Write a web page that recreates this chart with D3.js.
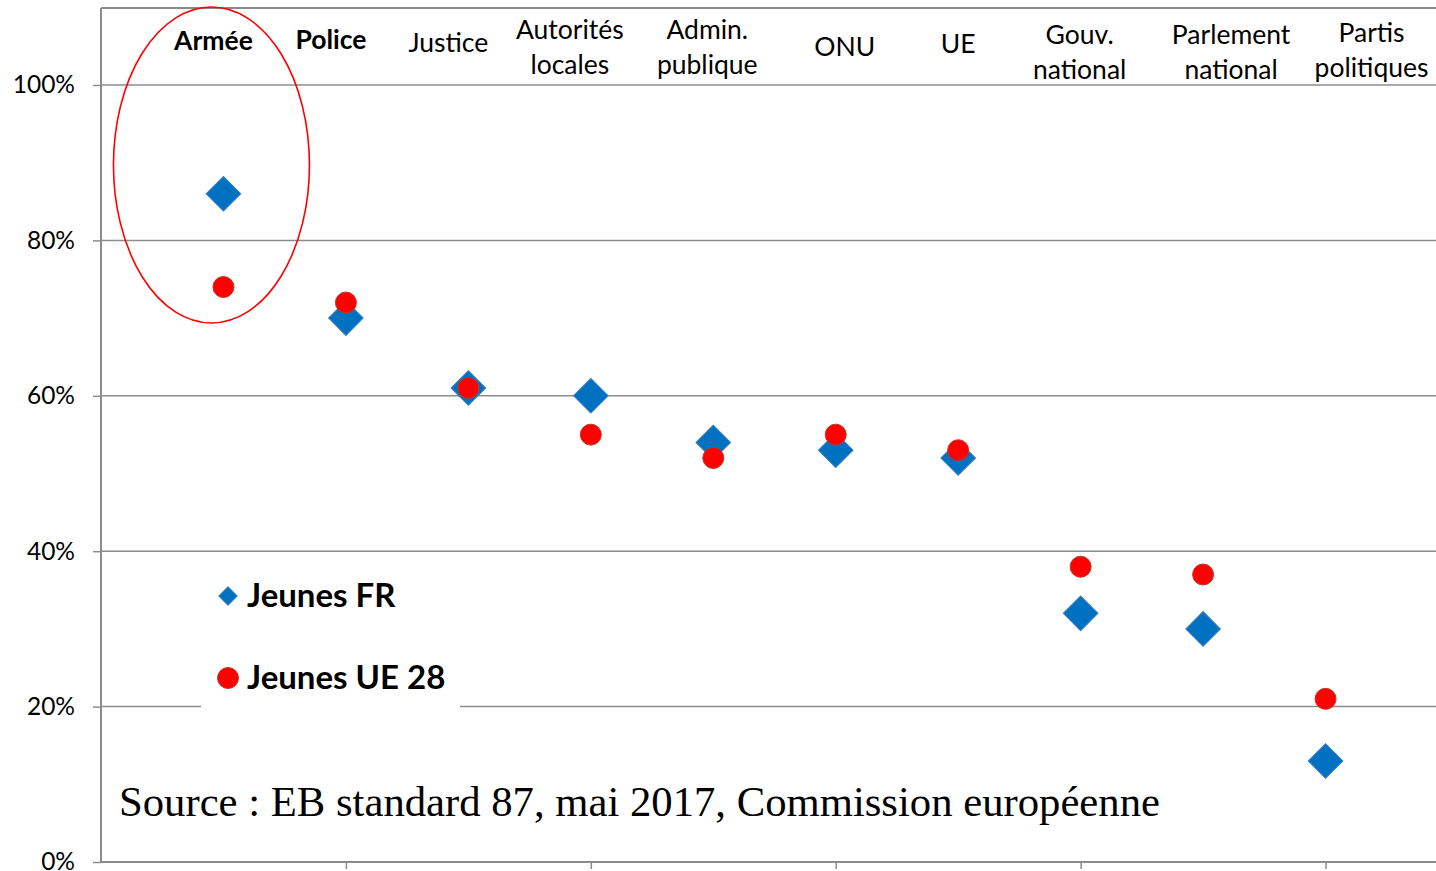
<!DOCTYPE html>
<html>
<head>
<meta charset="utf-8">
<script src="https://cdn.jsdelivr.net/npm/d3@7"></script>
<style>
  body { margin: 0; background: #fff; }
  svg { display: block; }
</style>
</head>
<body>
<div id="chart"></div>
<script>
// institutions, in plot order (x = 1..10)
const categories = ["Armée", "Police", "Justice", "Autorités\nlocales", "Admin.\npublique",
    "ONU", "UE", "Gouv.\nnational", "Parlement\nnational", "Partis\npolitiques"];
const boldCategories = ["Armée", "Police"];

// % de confiance
const jeunesFR = [86, 70, 61, 60, 54, 53, 52, 32, 30, 13];
const jeunesUE28 = [74, 72, 61, 55, 52, 55, 53, 38, 37, 21];

const yTicks = [0, 20, 40, 60, 80, 100];
const xTicks = [2, 4, 6, 8, 10];
const sourceText = "Source : EB standard 87, mai 2017, Commission européenne";

const W = 1436, H = 871;
const plotLeft = 101, plotRight = 1448, plotTop = 8, plotBottom = 862;

const svg = d3.select("#chart").append("svg")
    .attr("width", W)
    .attr("height", H);

const x = d3.scaleLinear().domain([0, 11]).range([plotLeft, plotRight]);
const y = d3.scaleLinear().domain([0, 100]).range([plotBottom, 85]);

// gridlines
svg.append("g")
    .selectAll("line")
    .data(yTicks.filter(d => d > 0))
    .enter()
    .append("line")
    .attr("x1", plotLeft)
    .attr("x2", W)
    .attr("y1", d => y(d))
    .attr("y2", d => y(d))
    .attr("stroke", "#8c8c8c")
    .attr("stroke-width", 1.5);

// top border of the plot area
svg.append("line")
    .attr("x1", plotLeft).attr("x2", W)
    .attr("y1", plotTop).attr("y2", plotTop)
    .attr("stroke", "#8c8c8c")
    .attr("stroke-width", 2);

// y axis
const yAxis = svg.append("g")
    .attr("transform", `translate(${plotLeft},0)`)
    .call(d3.axisLeft(y).tickValues(yTicks).tickSize(8).tickPadding(18).tickFormat(d => d + "%"));
yAxis.select(".domain").attr("d", `M0,${plotTop}V${plotBottom}`).attr("stroke", "#8c8c8c").attr("stroke-width", 2);
yAxis.selectAll(".tick line").attr("stroke", "#8c8c8c").attr("stroke-width", 1.5);
yAxis.selectAll(".tick text")
    .attr("font-family", "Lato, 'Open Sans', sans-serif")
    .attr("font-size", 24.5)
    .attr("fill", "#000");

// x axis
const xAxis = svg.append("g")
    .attr("transform", `translate(0,${plotBottom})`)
    .call(d3.axisBottom(x).tickValues(xTicks).tickSize(7).tickFormat(""));
xAxis.select(".domain").attr("d", `M${plotLeft},0H${W}`).attr("stroke", "#8c8c8c").attr("stroke-width", 2);
xAxis.selectAll(".tick line").attr("stroke", "#8c8c8c").attr("stroke-width", 1.5);

// category labels along the top
const labelDx = [-10, -15, -20, -21, -6, 9, 0, -1, 28, 46];
const labelDy = [41, 40, 43, 30, 30, 47, 44, 35, 35, 33];
const labels = svg.append("g")
    .selectAll("text")
    .data(categories)
    .enter()
    .append("text")
    .attr("x", (d, i) => x(i + 1) + labelDx[i])
    .attr("y", (d, i) => labelDy[i] + 9)
    .attr("text-anchor", "middle")
    .attr("font-family", "Lato, 'Open Sans', sans-serif")
    .attr("font-size", 26.5)
    .attr("font-weight", d => boldCategories.includes(d) ? "bold" : "normal")
    .attr("fill", "#000");

labels.each(function (d, i) {
    const lines = d.split("\n");
    const t = d3.select(this);
    lines.forEach((ln, j) => {
        t.append("tspan")
            .attr("x", x(i + 1) + labelDx[i])
            .attr("dy", j === 0 ? 0 : 35)
            .text(ln);
    });
});

// series
const diamond = d3.symbol().type(d3.symbolSquare).size(600);
svg.append("g")
    .selectAll("path")
    .data(jeunesFR)
    .enter()
    .append("path")
    .attr("d", diamond)
    .attr("transform", (d, i) => `translate(${x(i + 1)},${y(d)}) rotate(45)`)
    .attr("fill", "#0070c0")
    .attr("stroke", "#3a7fc4")
    .attr("stroke-width", 1);

svg.append("g")
    .selectAll("circle")
    .data(jeunesUE28)
    .enter()
    .append("circle")
    .attr("cx", (d, i) => x(i + 1))
    .attr("cy", d => y(d))
    .attr("r", 10.5)
    .attr("fill", "#ff0000")
    .attr("stroke", "#c0392b")
    .attr("stroke-width", 1);

// highlight ellipse around Armée
svg.append("ellipse")
    .attr("cx", x(1) - 12)
    .attr("cy", 165)
    .attr("rx", 98)
    .attr("ry", 158)
    .attr("fill", "none")
    .attr("stroke", "#ff0000")
    .attr("stroke-width", 1.6);

// legend
const legend = svg.append("g").attr("transform", "translate(201,560)");
legend.append("rect")
    .attr("width", 259)
    .attr("height", 152)
    .attr("fill", "#fff");

legend.append("path")
    .attr("d", d3.symbol().type(d3.symbolSquare).size(170))
    .attr("transform", "translate(27,36) rotate(45)")
    .attr("fill", "#0070c0")
    .attr("stroke", "#3a7fc4");
legend.append("circle")
    .attr("cx", 27).attr("cy", 118).attr("r", 10.5)
    .attr("fill", "#ff0000")
    .attr("stroke", "#c0392b");

legend.selectAll("text")
    .data(["Jeunes FR", "Jeunes UE 28"])
    .enter()
    .append("text")
    .attr("x", 46)
    .attr("y", (d, i) => 47 + i * 82)
    .attr("font-family", "Lato, 'Open Sans', sans-serif")
    .attr("font-size", 33)
    .attr("font-weight", "bold")
    .attr("fill", "#000")
    .text(d => d);

// source
svg.append("text")
    .attr("x", 119)
    .attr("y", 816)
    .attr("font-family", "'Liberation Serif', 'Times New Roman', serif")
    .attr("font-size", 42.7)
    .attr("fill", "#000")
    .text(sourceText);
</script>
</body>
</html>
